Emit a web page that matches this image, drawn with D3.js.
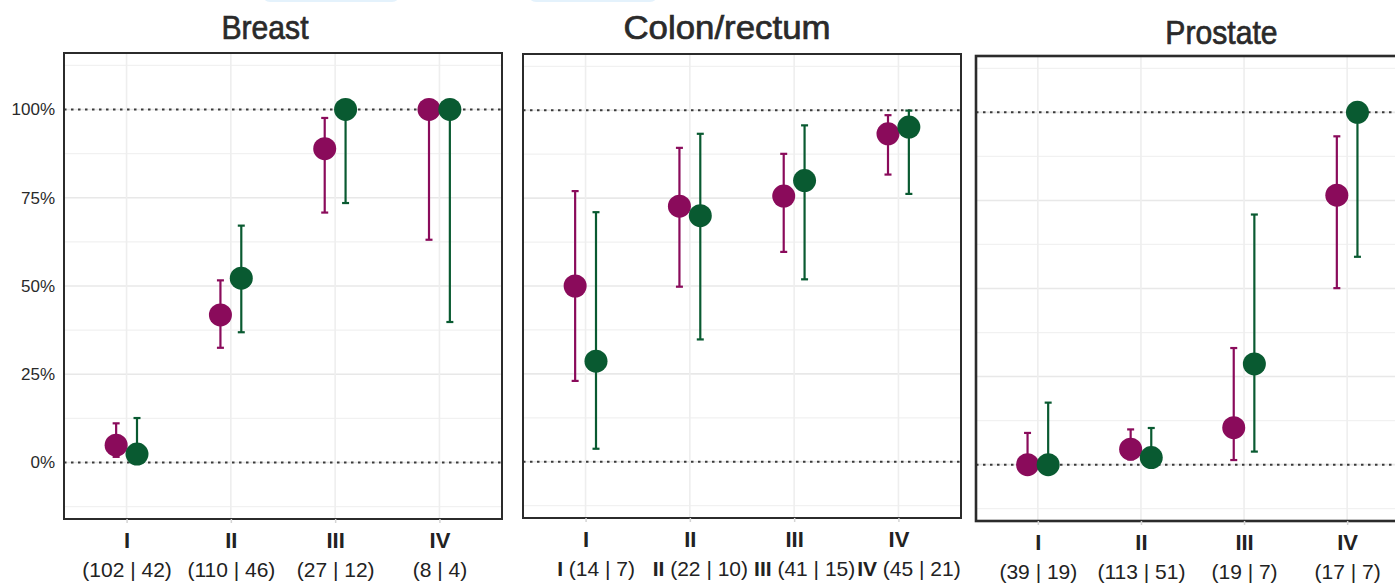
<!DOCTYPE html>
<html>
<head>
<meta charset="utf-8">
<script src="https://cdn.jsdelivr.net/npm/d3@7"></script>
<style>
  html, body { margin: 0; padding: 0; background: #fff; }
  svg { display: block; font-family: "Liberation Sans", Arial, sans-serif; }
</style>
</head>
<body>
<svg id="chart" width="1395" height="586"></svg>
<script>
// ---- data -------------------------------------------------------------
const stages = ["I", "II", "III", "IV"];

const breastCounts   = ["(102 | 42)", "(110 | 46)", "(27 | 12)", "(8 | 4)"];
const colonCounts    = ["(14 | 7)", "(22 | 10)", "(41 | 15)", "(45 | 21)"];
const prostateCounts = ["(39 | 19)", "(113 | 51)", "(19 | 7)", "(17 | 7)"];

// first group (magenta): proportion with 95% interval
const breastRateA = [0.049, 0.418, 0.889, 1.000];
const breastLowA  = [0.016, 0.325, 0.708, 0.631];
const breastHighA = [0.111, 0.516, 0.976, 1.000];
// second group (green)
const breastRateB = [0.024, 0.522, 1.000, 1.000];
const breastLowB  = [0.001, 0.369, 0.735, 0.398];
const breastHighB = [0.126, 0.671, 1.000, 1.000];

const colonRateA = [0.500, 0.727, 0.756, 0.933];
const colonLowA  = [0.230, 0.498, 0.597, 0.817];
const colonHighA = [0.770, 0.893, 0.876, 0.986];
const colonRateB = [0.286, 0.700, 0.800, 0.952];
const colonLowB  = [0.037, 0.348, 0.519, 0.762];
const colonHighB = [0.710, 0.933, 0.957, 0.999];

const prostateRateA = [0.000, 0.044, 0.105, 0.765];
const prostateLowA  = [0.000, 0.015, 0.013, 0.501];
const prostateHighA = [0.090, 0.100, 0.331, 0.932];
const prostateRateB = [0.000, 0.020, 0.286, 1.000];
const prostateLowB  = [0.000, 0.001, 0.037, 0.590];
const prostateHighB = [0.176, 0.104, 0.710, 1.000];

const yMajorTicks = [0, 0.25, 0.5, 0.75, 1];
const yMinorTicks = [-0.125, 0.125, 0.375, 0.625, 0.875, 1.125];
const refLines = [0, 1];

// ---- layout & style ---------------------------------------------------
const colorA = "#8a0b5b";
const colorB = "#095a31";
const yDomain = [-0.16, 1.16];

const panels = [
  { title: "Breast", counts: breastCounts, prefix: false,
    A: [breastRateA, breastLowA, breastHighA], B: [breastRateB, breastLowB, breastHighB],
    box: { left: 64, right: 502, top: 53, bottom: 519 }, titleDx: -18, titleY: 39, titleScale: 0.9,
    labelDx: 0, yAxis: true },
  { title: "Colon/rectum", counts: colonCounts, prefix: true,
    A: [colonRateA, colonLowA, colonHighA], B: [colonRateB, colonLowB, colonHighB],
    box: { left: 523, right: 961, top: 54, bottom: 518 }, titleDx: -15, titleY: 39, titleScale: 1.04,
    labelDx: 10, yAxis: false },
  { title: "Prostate", counts: prostateCounts, prefix: false,
    A: [prostateRateA, prostateLowA, prostateHighA], B: [prostateRateB, prostateLowB, prostateHighB],
    box: { left: 976, right: 1409, top: 56, bottom: 521 }, titleDx: 29, titleY: 44, titleScale: 0.9,
    labelDx: 0, yAxis: false, thick: true }
];

const svg = d3.select("#chart");
svg.append("rect").attr("width", 1395).attr("height", 586).attr("fill", "#fff");

// faint fragments of a header strip along the top edge
svg.append("rect").attr("x", 262).attr("y", -16).attr("width", 138).attr("height", 18)
  .attr("rx", 8).attr("fill", "#e4f2fc");
svg.append("rect").attr("x", 528).attr("y", -16).attr("width", 130).attr("height", 18)
  .attr("rx", 8).attr("fill", "#e4f2fc");

panels.forEach(p => {
  const b = p.box;
  const x = d3.scalePoint().domain(stages).range([b.left, b.right]).padding(0.6);
  const y = d3.scaleLinear().domain(yDomain).range([b.bottom, b.top]);
  const dodge = x.step() * 0.1;

  const g = svg.append("g");

  // grid
  g.selectAll("line.minor").data(yMinorTicks).join("line")
    .attr("x1", b.left).attr("x2", b.right)
    .attr("y1", d => y(d)).attr("y2", d => y(d))
    .attr("stroke", "#f1f1f1").attr("stroke-width", 1.2);
  g.selectAll("line.major").data(yMajorTicks).join("line")
    .attr("x1", b.left).attr("x2", b.right)
    .attr("y1", d => y(d)).attr("y2", d => y(d))
    .attr("stroke", "#e8e8e8").attr("stroke-width", 1.6);
  g.selectAll("line.vgrid").data(stages).join("line")
    .attr("x1", d => x(d)).attr("x2", d => x(d))
    .attr("y1", b.top).attr("y2", b.bottom)
    .attr("stroke", "#eeeeee").attr("stroke-width", 1.6);

  // reference lines at 0% and 100%
  g.selectAll("line.ref").data(refLines).join("line")
    .attr("x1", b.left).attr("x2", b.right)
    .attr("y1", d => y(d)).attr("y2", d => y(d))
    .attr("stroke", "#3a3a3a").attr("stroke-width", 2)
    .attr("stroke-dasharray", "2.5,4.5");

  // error bars
  const series = [
    { vals: p.A, color: colorA, off: -dodge },
    { vals: p.B, color: colorB, off: dodge }
  ];
  const capW = 3.5;
  series.forEach(s => {
    const [rate, lo, hi] = s.vals;
    const rows = stages.map((st, i) => ({ st, rate: rate[i], lo: lo[i], hi: hi[i] }));
    const eg = g.append("g").attr("stroke", s.color).attr("stroke-width", 2.2);
    eg.selectAll("line.bar").data(rows).join("line")
      .attr("x1", d => x(d.st) + s.off).attr("x2", d => x(d.st) + s.off)
      .attr("y1", d => y(d.lo)).attr("y2", d => y(d.hi));
    eg.selectAll("line.capLo").data(rows).join("line")
      .attr("x1", d => x(d.st) + s.off - capW).attr("x2", d => x(d.st) + s.off + capW)
      .attr("y1", d => y(d.lo)).attr("y2", d => y(d.lo));
    eg.selectAll("line.capHi").data(rows).join("line")
      .attr("x1", d => x(d.st) + s.off - capW).attr("x2", d => x(d.st) + s.off + capW)
      .attr("y1", d => y(d.hi)).attr("y2", d => y(d.hi));
  });

  // points
  series.forEach(s => {
    const rate = s.vals[0];
    g.append("g").selectAll("circle").data(stages.map((st, i) => ({ st, v: rate[i] }))).join("circle")
      .attr("cx", d => x(d.st) + s.off).attr("cy", d => y(d.v))
      .attr("r", 11.5).attr("fill", s.color);
  });

  // panel border
  g.append("rect")
    .attr("x", b.left).attr("y", b.top)
    .attr("width", b.right - b.left).attr("height", b.bottom - b.top)
    .attr("fill", "none").attr("stroke", "#2b2b2b").attr("stroke-width", p.thick ? 2.6 : 2);

  // title (slightly condensed)
  svg.append("text")
    .attr("transform", `translate(${(b.left + b.right) / 2 + p.titleDx},${p.titleY}) scale(${p.titleScale},1)`)
    .attr("text-anchor", "middle").attr("font-size", 33.5)
    .attr("fill", "#2a2a2a").attr("stroke", "#2a2a2a").attr("stroke-width", 0.7)
    .text(p.title);

  // x axis: stage numeral and group sizes
  const xAxis = d3.axisBottom(x).tickSize(4).tickPadding(4).tickFormat(d => d);
  const ax = svg.append("g").attr("transform", `translate(0,${b.bottom})`).call(xAxis);
  ax.select(".domain").remove();
  ax.selectAll(".tick line").attr("stroke", "#d4d4d4").attr("stroke-width", 1.5);
  ax.selectAll(".tick text")
    .attr("font-family", "'Liberation Sans', Arial, sans-serif")
    .attr("font-size", 22).attr("font-weight", "bold").attr("fill", "#222")
    .attr("dy", "0.95em");
  ax.selectAll(".tick").each(function (d, i) {
    const t = d3.select(this).append("text")
      .attr("y", 58).attr("x", p.labelDx)
      .attr("text-anchor", "middle").attr("fill", "#222")
      .attr("font-family", "'Liberation Sans', Arial, sans-serif")
      .attr("font-size", 21);
    if (p.prefix) {
      t.append("tspan").attr("font-weight", "bold").text(d + " ");
    }
    t.append("tspan").text(p.counts[i]);
  });

  // y axis (first panel only)
  if (p.yAxis) {
    const yAxis = d3.axisLeft(y).tickValues(yMajorTicks).tickFormat(d3.format(".0%"))
      .tickSize(0).tickPadding(9);
    const ay = svg.append("g").attr("transform", `translate(${b.left},0)`).call(yAxis);
    ay.select(".domain").remove();
    ay.selectAll(".tick text")
      .attr("font-size", 17).attr("fill", "#2a2a2a")
      .attr("font-family", "'Liberation Sans', Arial, sans-serif");
  }
});
</script>
</body>
</html>
